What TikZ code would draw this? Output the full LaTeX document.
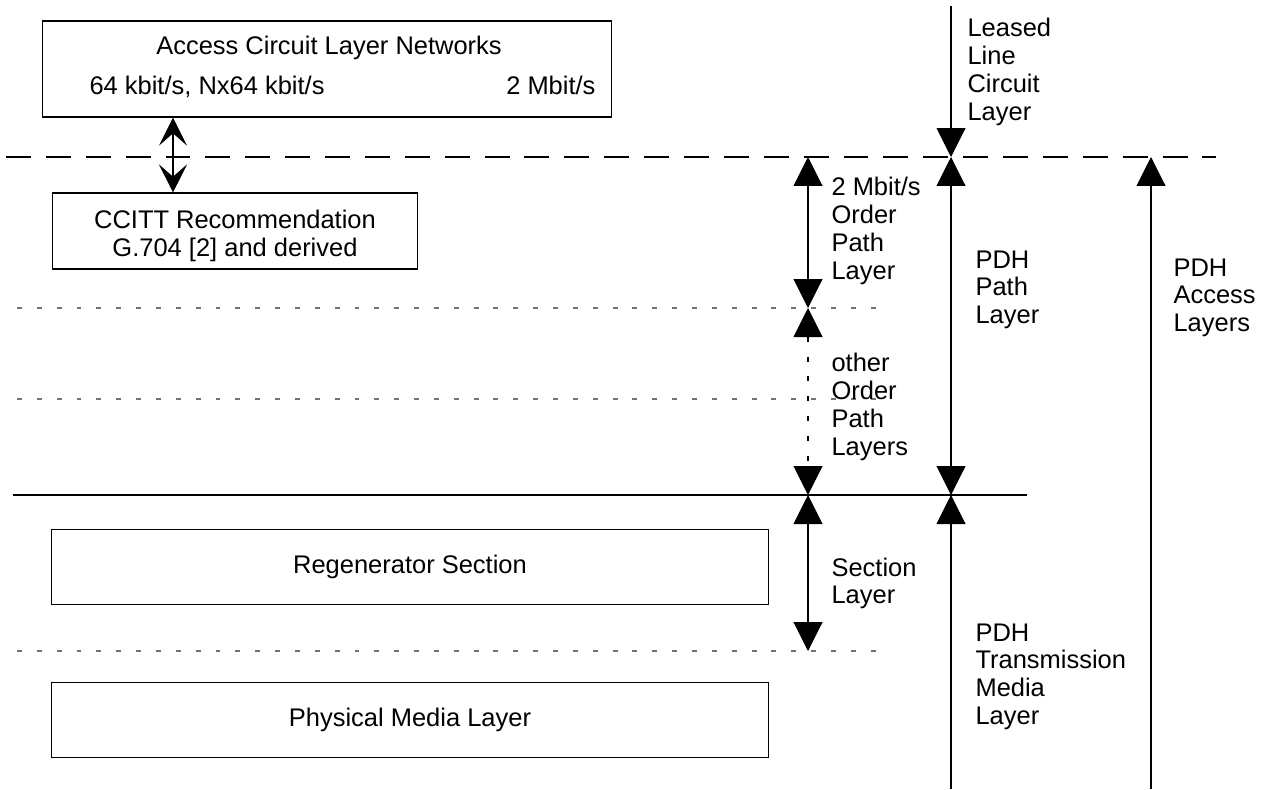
\documentclass[tikz,border=0pt]{standalone}
\usepackage{fontspec}
\setmainfont{Liberation Sans}
\usetikzlibrary{arrows.meta}

\begin{document}
\begin{tikzpicture}[x=0.02cm, y=-0.02cm, line width=0.6pt,
  font=\fontsize{14.5}{15.8}\selectfont,
  >={Triangle[length=16.5pt,width=16.5pt]},
  box/.style={draw, inner sep=0},
  lbl/.style={anchor=north west, align=left, inner sep=0},
  longdash/.style={dash pattern=on 14.2pt off 8.5pt},
  shortdash/.style={black!55, dash pattern=on 2.8pt off 8.5pt}]

\useasboundingbox (0,0) rectangle (1275,789);

% boxes on the left
\node[box, minimum width=11.4cm, minimum height=1.92cm] (acl) at (327,69) {};
\node[anchor=north, inner sep=0] (acltitle) at (329,36) {Access Circuit Layer Networks};
\node[anchor=north west, inner sep=0] (aclrate1) at (89,76) {64 kbit/s, Nx64 kbit/s};
\node[anchor=north east, inner sep=0] (aclrate2) at (596,76) {2 Mbit/s};
\node[box, minimum width=7.32cm, minimum height=1.52cm] (ccitt) at (235,231) {};
\node[align=center, inner sep=0] (ccitttxt) at (235,236) {CCITT Recommendation\\G.704 [2] and derived};
\node[box, minimum width=14.34cm, minimum height=1.5cm] (regen) at (410,567) {Regenerator Section};
\node[box, minimum width=14.34cm, minimum height=1.5cm] (media) at (410,720) {Physical Media Layer};

\coordinate (acx) at (173,0);
\path[{Stealth[length=16pt,width=16pt,inset=7pt]}-{Stealth[length=16pt,width=16pt,inset=7pt]}] (acl.south -| acx) edge (ccitt.north -| acx);

% layer borders
\coordinate (dashL) at (6,157);   \coordinate (dashR) at (1216,157);
\coordinate (dotAL) at (17,308);  \coordinate (dotAR) at (882,308);
\coordinate (dotBL) at (17,399);  \coordinate (dotBR) at (882,399);
\coordinate (solL) at (13,495);   \coordinate (solR) at (1027,495);
\coordinate (dotCL) at (17,651);  \coordinate (dotCR) at (882,651);

\draw[longdash] (dashL) -- (dashR);
\draw[shortdash] (dotAL) -- (dotAR);
\draw[shortdash] (dotBL) -- (dotBR);
\draw (solL) -- (solR);
\draw[shortdash] (dotCL) -- (dotCR);

% order path and section layers
\coordinate (ord0) at (808,157);
\coordinate (ord1) at (808,308);
\coordinate (ord2) at (808,495);
\coordinate (ord3) at (808,651);
\draw[<->] (ord0) -- (ord1);
\draw[<->, shortdash, black] (ord1) -- (ord2);
\draw[<->] (ord2) -- (ord3);

\node[lbl] (ordlbl) at (831,177) {2 Mbit/s\\Order\\Path\\Layer};
\node[lbl] (othlbl) at (831,353) {other\\Order\\Path\\Layers};
\node[lbl] (seclbl) at (831,557) {Section\\Layer};

% PDH layers
\coordinate (pdh0) at (951,6);
\coordinate (pdh1) at (951,157);
\coordinate (pdh2) at (951,495);
\coordinate (pdh3) at (951,789);
\draw[->] (pdh0) -- (pdh1);
\draw[<->] (pdh1) -- (pdh2);
\draw[<-] (pdh2) -- (pdh3);

\node[lbl] (leaslbl) at (967,18) {Leased\\Line\\Circuit\\Layer};
\node[lbl] (pathlbl) at (975,250) {PDH\\Path\\Layer};
\node[lbl] (tmlbl) at (975,623) {PDH\\Transmission\\Media\\Layer};

\coordinate (acc0) at (1151,157);
\coordinate (acc1) at (1151,789);
\draw[<-] (acc0) -- (acc1);
\node[lbl] (acclbl) at (1173,258) {PDH\\Access\\Layers};

\end{tikzpicture}
\end{document}
